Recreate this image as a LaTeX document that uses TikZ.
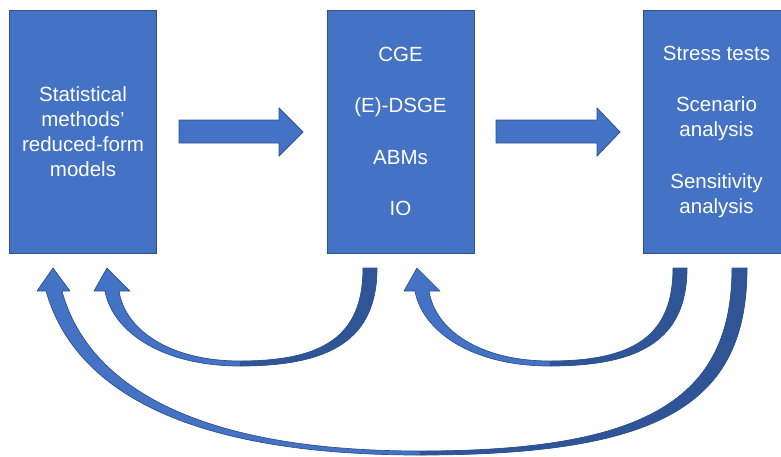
\documentclass[tikz,border=0pt]{standalone}
\usepackage{fontspec}
\setmainfont{Liberation Sans}
\definecolor{boxblue}{HTML}{4472C4}
\definecolor{darkblue}{HTML}{2F5597}
\definecolor{edgeblue}{HTML}{2F528F}
\begin{document}
\begin{tikzpicture}[x=1pt,y=-1pt,
  box/.style={draw=edgeblue, fill=boxblue, line width=0.8pt, minimum width=147pt,
    minimum height=243pt, inner sep=0pt, text=white, align=center,
    font=\fontsize{20.5}{25}\selectfont},
  blk/.style={fill=boxblue, draw=edgeblue, line width=0.8pt},
  curveedge/.style={draw=edgeblue, line width=0.7pt, line join=round},
]
\useasboundingbox (0,0) rectangle (781,456);

% boxes
\node[box] (stat) at (83,131.5) {Statistical\\methods’\\reduced-form\\models};
\node[box] (mid) at (400.5,131.5) {CGE\\[26.5pt](E)-DSGE\\[26.5pt]ABMs\\[26.5pt]IO};
\node[box] (res) at (716.5,131.5) {Stress tests\\[26.5pt]Scenario\\analysis\\[26.5pt]Sensitivity\\analysis};

% block arrows
\draw[blk] (179,120) -- (279,120) -- (279,108) -- (303,132) -- (279,156) -- (279,143) -- (179,143) -- cycle;
\draw[blk] (496,120) -- (597,120) -- (597,108) -- (620,132) -- (597,156) -- (597,143) -- (496,143) -- cycle;

% curved arrows
\def\arcA#1{(363+#1,268) -- (377+#1,268) .. controls (377+#1,340) and (330+#1,366) .. (240+#1,366)
  .. controls (160+#1,366) and (112+#1,330) .. (105+#1,291) -- (94+#1,291) -- (107+#1,268)
  -- (130+#1,291) -- (119+#1,291) .. controls (125+#1,330) and (170+#1,361) .. (240+#1,361)
  .. controls (325+#1,361) and (363+#1,335) .. (363+#1,268) -- cycle}
\def\arcB{(732,268) -- (747,268) .. controls (747,405) and (660,455) .. (420,455)
  .. controls (160,455) and (70,375) .. (46,291) -- (37,291) -- (53,268) -- (70,291) -- (62,291)
  .. controls (84,373) and (175,451) .. (420,451) .. controls (645,451) and (732,400) .. (732,268) -- cycle}

% long arrow: results back to statistical methods
\fill[boxblue] \arcB;
\begin{scope}
  \clip (420,260) rectangle (790,460);
  \fill[darkblue] \arcB;
\end{scope}
\path[curveedge] \arcB;

% middle -> left
\fill[boxblue] \arcA{0};
\begin{scope}
  \clip (240,260) rectangle (400,460);
  \fill[darkblue] \arcA{0};
\end{scope}
\path[curveedge] \arcA{0};

% right -> middle
\fill[boxblue] \arcA{310};
\begin{scope}
  \clip (550,260) rectangle (710,460);
  \fill[darkblue] \arcA{310};
\end{scope}
\path[curveedge] \arcA{310};
\end{tikzpicture}
\end{document}
